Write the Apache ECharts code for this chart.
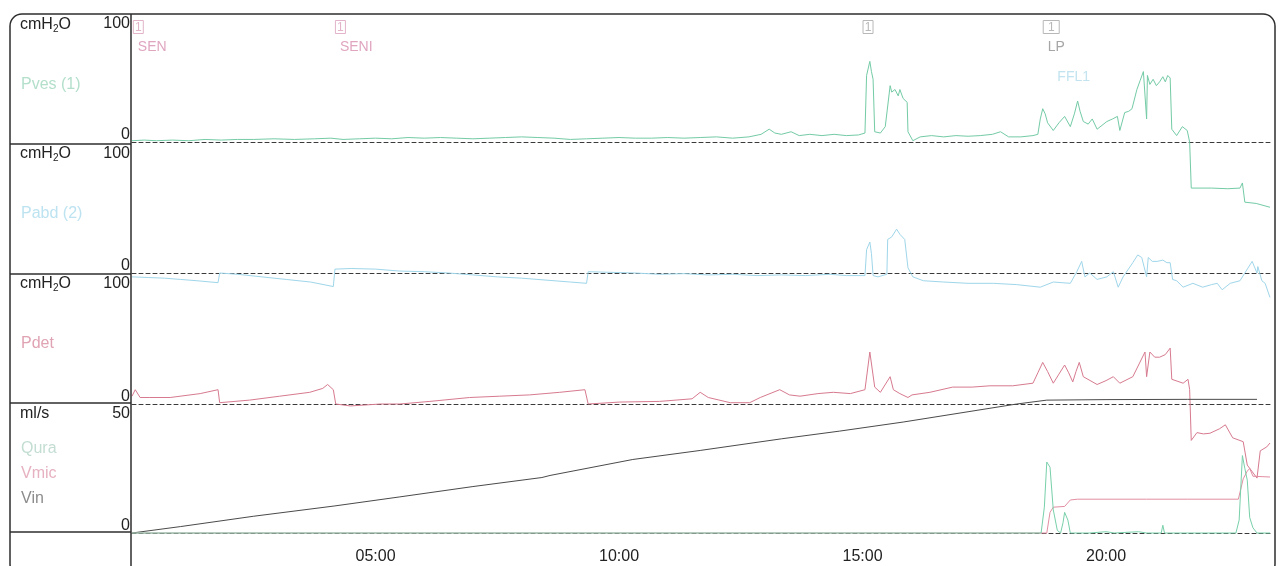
<!DOCTYPE html>
<html><head><meta charset="utf-8">
<script src="https://cdn.jsdelivr.net/npm/echarts@6/dist/echarts.min.js"></script>
<style>html,body{margin:0;padding:0;background:#fff;}#c{width:1278px;height:566px;}</style>
</head><body><div id="c"></div>
<script>
// ---- data (time in seconds, values in panel units) ----
const timeTicks = [300, 600, 900, 1200];
const timeTickLabels = ['05:00', '10:00', '15:00', '20:00'];
const timeMax = 1402;

const rowUnits = ['cmH2O', 'cmH2O', 'cmH2O', 'ml/s'];
const rowMax = [100, 100, 100, 50];
const rowTickLabels = [['0', '100'], ['0', '100'], ['0', '100'], ['0', '50']];

const pves = [[0,1],[15,1.5],[30,1],[50,1.5],[70,1],[90,2],[110,1.5],[130,2],[150,2],[175,2.5],[200,2],[225,2.5],[245,3],[260,2],[280,2.5],[300,3],[320,2.5],[340,3.5],[360,3],[380,3.5],[400,3],[420,2.5],[440,3],[460,3.5],[480,4],[500,3.5],[520,3],[540,2],[560,2.5],[580,3],[600,3.5],[620,3],[640,3],[660,3.5],[680,3],[700,3.5],[720,4],[740,3],[760,4],[775,6],[785,10],[792,7],[800,6],[812,8],[822,5],[835,6],[850,5],[865,6],[880,5],[895,5.5],[903,7],[905,52],[909,63],[911,55],[913,49],[915,8],[922,7],[928,12],[934,44],[936,39],[940,41],[944,36],[946,41],[950,34],[955,31],[956,8],[962,1],[971,4],[985,5],[1000,4],[1015,5],[1030,4.5],[1045,5],[1060,6],[1070,8],[1080,4],[1095,4],[1110,5],[1116,6],[1119,18],[1122,26],[1125,22],[1128,15],[1135,9],[1142,15],[1149,20],[1156,12],[1161,22],[1165,32],[1168,24],[1172,16],[1178,14],[1183,18],[1189,10],[1195,13],[1201,16],[1208,18],[1214,20],[1217,9],[1223,23],[1228,24],[1232,26],[1238,41],[1242,48],[1246,55],[1250,18],[1251,52],[1254,45],[1258,49],[1262,44],[1266,47],[1270,51],[1273,47],[1276,52],[1279,50],[1281,10],[1287,5],[1294,12],[1300,9],[1303,0],[1305,-36],[1330,-36],[1350,-36.5],[1365,-36],[1368,-32],[1371,-47],[1385,-48],[1402,-51]];

const pabd = [[0,-3],[20,-3.5],[40,-4],[60,-5],[80,-6],[106,-7.5],[108,0],[130,-1],[160,-3],[190,-5],[220,-7],[248,-10.5],[250,3],[270,3.5],[300,3],[330,1.5],[360,1],[390,0],[420,-1.5],[450,-3],[480,-4],[510,-5.5],[540,-7],[560,-8],[562,1],[590,0.5],[620,0],[650,-1],[680,-0.5],[710,-1.5],[740,-1],[770,-2],[800,-1.5],[830,-2],[860,-1],[880,-2],[903,-2],[905,18],[909,24],[911,15],[913,-2],[919,-3],[930,-1],[931,26],[936,28],[942,34],[946,30],[952,26],[956,4],[962,-3],[975,-6],[1000,-7],[1030,-8],[1061,-8],[1090,-9],[1119,-11],[1135,-7],[1156,-8],[1164,1],[1170,9],[1174,-3],[1180,0],[1189,-5],[1201,-3],[1209,1],[1215,-11],[1221,-3],[1233,8],[1239,14],[1244,12],[1250,-3],[1252,12],[1257,9],[1263,9],[1270,10],[1275,8],[1279,8],[1282,-5],[1287,-6],[1295,-11],[1307,-8],[1319,-11],[1330,-9],[1337,-8],[1343,-13],[1353,-8],[1365,-6],[1380,9],[1386,0],[1387,5],[1392,-6],[1396,-8],[1402,-19]];

const pdet = [[0,6],[4,11],[10,5],[22,5],[47,5],[84,8],[106,11],[108,1],[145,3],[182,6],[219,9],[235,12],[241,15],[248,11],[251,0],[269,-1.5],[306,0],[330,0],[367,2],[416,5],[453,6],[490,7],[527,9],[558,11],[562,0],[601,1.5],[650,2],[690,4],[700,9],[710,5],[737,1],[761,1],[774,5],[798,11],[810,7],[823,6],[845,8],[864,9],[885,8],[903,11],[909,40],[915,13],[922,9],[934,21],[938,11],[946,8],[956,5],[961,7],[983,9],[1011,13],[1035,13],[1057,14],[1085,14],[1110,16],[1116,24],[1122,32],[1128,25],[1135,16],[1142,23],[1149,30],[1154,24],[1159,17],[1163,25],[1167,32],[1172,21],[1189,15],[1200,18],[1209,21],[1217,16],[1233,21],[1248,40],[1250,21],[1254,40],[1260,36],[1266,36],[1273,38],[1279,43],[1281,19],[1295,16],[1301,19],[1303,11],[1305,-28],[1312,-22],[1320,-23],[1328,-22.5],[1340,-19],[1347,-16],[1356,-26],[1369,-29],[1374,-47],[1386,-57],[1390,-36],[1398,-33],[1402,-30]];

const qura = [[0,0],[1120,0],[1124,10],[1127,27.5],[1131,25.5],[1135,9],[1140,1],[1144,0],[1147,4],[1149,8],[1153,5],[1156,0],[1180,0],[1200,0.5],[1210,0],[1240,0.5],[1250,0],[1268,0],[1270,3],[1272,0],[1300,0],[1340,0],[1360,0],[1364,5],[1368,30],[1371,25],[1374,20.5],[1377,6],[1381,2],[1386,0],[1402,0]];

const vmic = [[0,0],[1122,0],[1127,0],[1131,8],[1135,10],[1149,10.3],[1156,12.8],[1165,13.1],[1250,13.1],[1300,13.1],[1363,13.1],[1369,21],[1374,24],[1377,25],[1381,22],[1402,21.7]];

const vin = [[0,0],[60,2.5],[150,6.5],[250,10.5],[330,14],[420,18],[505,21.5],[515,22.3],[617,28.5],[700,32],[800,36.5],[872,39.5],[950,43],[1030,47],[1090,50],[1127,51.5],[1200,51.7],[1300,51.8],[1386,51.8]];

const eventTimes = [1, 250, 900, 1122];
const eventLabels = ['SEN', 'SENI', '', 'LP'];
const noteText = 'FFL1';
const notePos = [1140, 51];

// ---- chart ----
const FONT = 'Liberation Sans, Arial, sans-serif';
const rows = [{top:14,h:128},{top:144,h:129},{top:274,h:130},{top:404,h:129}];
const chart = echarts.init(document.getElementById('c'), null, {renderer:'canvas'});

const grids = rows.map(r => ({left:132, top:r.top, width:1138, height:r.h}));
const xAxes = rows.map((r,i) => ({
  type:'value', gridIndex:i, min:0, max:timeMax, interval:300,
  axisLine:{show:true, lineStyle:{color:'#3a3a3a', width:1, type:[4,3]}},
  axisTick:{show:false}, splitLine:{show:false},
  axisLabel:{show:i===3, color:'#222', fontSize:16, fontFamily:FONT, margin:16,
    showMinLabel:false, showMaxLabel:false,
    formatter: v => { const k = timeTicks.indexOf(v); return k>=0 ? timeTickLabels[k] : ''; }}
}));
const yAxes = rows.map((r,i) => ({
  type:'value', gridIndex:i, min:0, max:rowMax[i], interval:rowMax[i],
  axisLine:{show:false}, axisTick:{show:false}, splitLine:{show:false},
  axisLabel:{show:true, margin:2, color:'#222', fontSize:16, fontFamily:FONT,
    formatter: v => v===0 ? '{lo|'+rowTickLabels[i][0]+'}' : '{hi|'+rowTickLabels[i][1]+'}',
    rich:{
      hi:{fontSize:16, fontFamily:FONT, color:'#222', padding:[19,0,0,0]},
      lo:{fontSize:16, fontFamily:FONT, color:'#222', padding:[0,0,14,0]}
    }}
}));

function line(name, data, gi, color, w){
  return {name, type:'line', xAxisIndex:gi, yAxisIndex:gi, data, showSymbol:false,
    symbol:'none', clip:false, animation:false, lineStyle:{color, width:w||1}, z:3};
}

chart.setOption({
  animation:false,
  backgroundColor:'#fff',
  grid:grids, xAxis:xAxes, yAxis:yAxes,
  series:[
    line('Pves', pves, 0, '#74cba6'),
    line('Pabd', pabd, 1, '#9fd6ea'),
    line('Pdet', pdet, 2, '#d77a8f'),
    line('Vin', vin, 3, '#4a4a4a'),
    line('Vmic', vmic, 3, '#e28ea2'),
    line('Qura', qura, 3, '#78d0aa')
  ]
});

// ---- frame & left panel ----
const G = [];
const frameColor = '#2e2e2e';
G.push({type:'rect', shape:{x:10,y:14,width:1265,height:562,r:12}, style:{fill:'none', stroke:frameColor, lineWidth:1.5}, z:50, silent:true});
G.push({type:'line', shape:{x1:131,y1:14,x2:131,y2:566}, style:{stroke:frameColor, lineWidth:1.5}, z:50, silent:true});
[144, 274, 403, 532].forEach(y => G.push({type:'line', shape:{x1:10,y1:y,x2:131,y2:y}, style:{stroke:frameColor, lineWidth:1.5}, z:50, silent:true}));

function txt(x, y, text, color, size, extra){
  return Object.assign({type:'text', z:60, silent:true, style:Object.assign({x, y, text, fill:color, fontSize:size||16, fontFamily:FONT, align:'left', verticalAlign:'middle'}, extra||{})});
}
const unitRich = {rich:{a:{fontSize:16, fontFamily:FONT, fill:'#222', color:'#222'}, b:{fontSize:10, fontFamily:FONT, fill:'#222', color:'#222', padding:[8,0,0,0]}}};
const unitY = [25, 154, 284, 414];
rowUnits.forEach((u,i) => {
  if (u === 'cmH2O') G.push(txt(20, unitY[i], '{a|cmH}{b|2}{a|O}', '#222', 16, unitRich));
  else G.push(txt(20, unitY[i], u, '#222', 16));
});
G.push(txt(21, 85, 'Pves (1)', '#b3dfcb', 16));
G.push(txt(21, 214, 'Pabd (2)', '#bde3f1', 16));
G.push(txt(21, 344, 'Pdet', '#e0a3b3', 16));
G.push(txt(21, 449, 'Qura', '#c3ddd2', 16));
G.push(txt(21, 474, 'Vmic', '#e6b1c0', 16));
G.push(txt(21, 499, 'Vin', '#8c8c8c', 16));

// ---- event markers ----
const evColors = ['#e2b3c9', '#e2b3c9', '#b8b8b8', '#b8b8b8'];
const lblColors = ['#e0a6c0', '#e0a6c0', '#aaa', '#a6a6a6'];
eventTimes.forEach((t,i) => {
  const p = chart.convertToPixel({gridIndex:0}, [t, 100]);
  const w = i === 3 ? 16 : 10;
  G.push({type:'rect', z:40, silent:true, shape:{x:p[0]+0.5, y:p[1]+6.5, width:w, height:13}, style:{fill:'none', stroke:evColors[i], lineWidth:1}});
  G.push(txt(p[0]+0.5+w/2, p[1]+13.5, '1', evColors[i], 12, {align:'center'}));
  if (eventLabels[i]) G.push(txt(p[0]+5, p[1]+33, eventLabels[i], lblColors[i], 14));
});
const np = chart.convertToPixel({gridIndex:0}, notePos);
G.push(txt(np[0], np[1], noteText, '#c2e3ef', 14));

chart.setOption({graphic:G});
</script>
</body></html>
